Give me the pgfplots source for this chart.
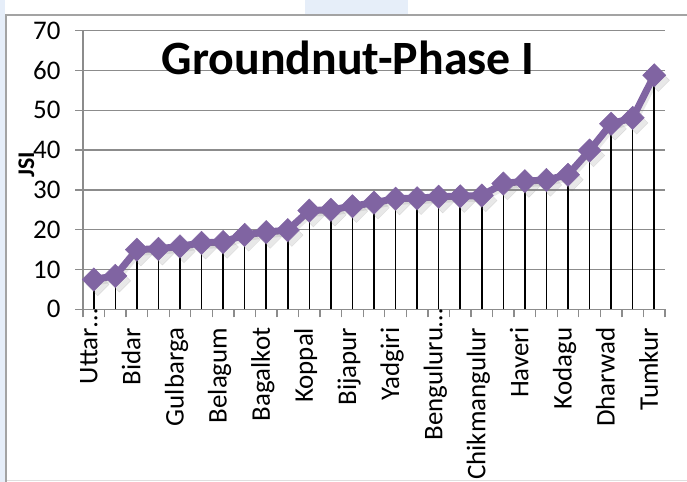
\documentclass[border=0pt]{standalone}
\usepackage{fontspec}
\setmainfont{Carlito}
\usepackage{pgfplots}
\pgfplotsset{compat=1.18}
\usepackage{pgfplotstable}
\definecolor{purp}{HTML}{8064A2}
\definecolor{gridg}{HTML}{8C8C8C}
\definecolor{frameb}{HTML}{E6EEF9}
\pgfplotstableread{
x y
0 7.5
1 8.4
2 15.0
3 15.2
4 15.8
5 16.7
6 16.9
7 18.7
8 19.4
9 19.9
10 24.8
11 25.0
12 25.9
13 26.8
14 27.8
15 27.9
16 28.3
17 28.4
18 28.6
19 31.6
20 32.2
21 32.5
22 33.8
23 39.9
24 46.6
25 48.1
26 58.8
}\jsi
\begin{document}
\begin{tikzpicture}[x=1bp,y=1bp]
\useasboundingbox (0,0) rectangle (687,482);
\fill[frameb] (0,0) rectangle (5,482);
\fill[frameb] (305,468) rectangle (408,482);
\draw[gray!25, line width=1bp] (6,1.5) -- (687,1.5);
\draw[gridg!80, line width=1.5bp] (6,0) -- (6,467) -- (687,467);
\begin{axis}[
  at={(83bp,172.7bp)}, anchor=south west,
  scale only axis, width=582bp, height=278.6bp,
  xmin=-0.5, xmax=26.5, ymin=0, ymax=70,
  axis lines=left, axis line style={-, gridg, line width=1.3bp},
  ytick={0,10,...,70},
  ymajorgrids, grid style={gridg, line width=1.3bp},
  xtick={0,2,...,26},
  xticklabels={Uttar\rlap{…},Bidar,Gulbarga,Belagum,Bagalkot,Koppal,Bijapur,Yadgiri,Benguluru\rlap{…},Chikmangulur,Haveri,Kodagu,Dharwad,Tumkur},
  minor xtick={-0.5,0.5,...,26.5},
  tick align=outside, major tick length=8bp, minor tick length=8bp,
  major x tick style={draw=none},
  tick style={gridg, line width=1.3bp},
  /pgf/number format/assume math mode=true,
  ticklabel style={font=\fontsize{27}{30}\selectfont},
  xticklabel style={rotate=90, anchor=east, text height=0.72em, text depth=0pt},
  xticklabel shift=7bp,
  yticklabel shift=11bp,
  clip=false,
]
\addplot[gray, opacity=0.18, line width=7bp, mark=square*, mark size=8bp,
  mark options={solid, rotate=45, line width=0.5bp}, transform canvas={shift={(2bp,-2.5bp)}}] table[x=x,y=y] {\jsi};
\addplot[purp, line width=7bp, mark=square*, mark size=8.2bp,
  mark options={solid, rotate=45, fill=purp, draw=purp, line width=0.5bp}] table[x=x,y=y] {\jsi};
\addplot[ycomb, black, line width=1.6bp, no marks] table[x=x,y=y] {\jsi};
\end{axis}
\node[anchor=base, font=\bfseries\fontsize{48}{52}\selectfont] at (348,407) {Groundnut-Phase I};
\node[rotate=90, anchor=base, font=\bfseries\fontsize{24}{26}\selectfont] at (34,317) {JSI};
\end{tikzpicture}
\end{document}
